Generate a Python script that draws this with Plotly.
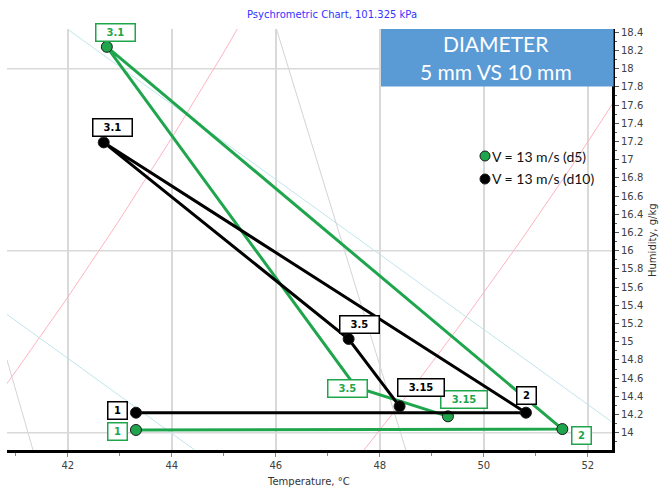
import numpy as np
import plotly.graph_objects as go

# ---- state points: dry-bulb temperature (°C) and humidity ratio (g/kg) ----
point_names = ["1", "2", "3.1", "3.5", "3.15"]
temp_d5 = [43.31, 51.51, 42.75, 47.54, 49.31]
hum_d5 = [14.03, 14.04, 18.24, 14.50, 14.18]
temp_d10 = [43.31, 50.81, 42.69, 47.40, 48.38]
hum_d10 = [14.22, 14.22, 17.19, 15.03, 14.29]
series_names = ["V = 13 m/s (d5)", "V = 13 m/s (d10)"]

# ---- psychrometric reference lines ----
rh_levels = [0.20, 0.30]                      # relative humidity curves
wetbulb_temp = [[41.98, 52.46], [40.83, 44.44]]  # cyan reference lines
wetbulb_hum = [[18.44, 14.12], [15.30, 13.81]]
volume_temp = [[46.01, 48.50], [40.83, 41.33]]   # grey specific-volume lines
volume_hum = [[18.44, 13.81], [14.80, 13.81]]
grid_hum = [14, 16, 18]

x_ticks = [42, 44, 46, 48, 50, 52]
x_range = [40.83, 52.465]
y_range = [13.81, 18.436]

P_ATM = 101325.0

# ---- layout geometry ----
W, H = 659, 488
ML, MR, MT, MB = 7, 47, 29, 38
GREEN = "#1fa64d"
BLACK = "#000000"


def px_x(p):
    return (p - ML) / (W - ML - MR)


def px_y(p):
    return (H - MB - p) / (H - MT - MB)


def p_ws(t):
    """Saturation vapour pressure over water (Pa), Hyland-Wexler."""
    T = np.asarray(t) + 273.15
    return np.exp(-5.8002206e3 / T + 1.3914993 - 4.8640239e-2 * T
                  + 4.1764768e-5 * T ** 2 - 1.4452093e-8 * T ** 3
                  + 6.5459673 * np.log(T))


fig = go.Figure()

# relative humidity curves
t_grid = np.linspace(40.0, 53.5, 80)
for rh in rh_levels:
    pv = rh * p_ws(t_grid)
    w = 621.945 * pv / (P_ATM - pv)
    fig.add_trace(go.Scatter(x=t_grid, y=w, mode="lines",
                             line=dict(color="#ffb3c1", width=1),
                             hoverinfo="skip", showlegend=False))

for tx, hy in zip(wetbulb_temp, wetbulb_hum):
    fig.add_trace(go.Scatter(x=tx, y=hy, mode="lines",
                             line=dict(color="#bfe6ea", width=1),
                             hoverinfo="skip", showlegend=False))

for tx, hy in zip(volume_temp, volume_hum):
    fig.add_trace(go.Scatter(x=tx, y=hy, mode="lines",
                             line=dict(color="#d4d4d4", width=1),
                             hoverinfo="skip", showlegend=False))

# process paths
for name, tx, hy, col in [(series_names[0], temp_d5, hum_d5, GREEN),
                          (series_names[1], temp_d10, hum_d10, BLACK)]:
    fig.add_trace(go.Scatter(
        x=tx, y=hy, mode="lines+markers", name=name,
        line=dict(color=col, width=3),
        marker=dict(size=11, color=col, line=dict(color="#1a1a1a", width=1)),
        showlegend=False))

# point labels (offsets in pixels: dx, dy with dy upward)
offsets_d5 = [(-18, -2), (19, -6), (9, 14), (-8, -1), (16, 17)]
offsets_d10 = [(-18, 2), (1, 17), (9, 15), (11, 14), (21, 19)]
label_font = dict(family="DejaVu Sans", size=10, weight="bold")


def label_width(txt):
    return {1: 16, 3: 36}.get(len(txt), 43)


for tx, hy, offs, col in [(temp_d5, hum_d5, offsets_d5, GREEN),
                          (temp_d10, hum_d10, offsets_d10, BLACK)]:
    for name, x, y, (dx, dy) in zip(point_names, tx, hy, offs):
        fig.add_annotation(
            x=x, y=y, text=name, showarrow=False,
            xshift=dx, yshift=dy, xanchor="center", yanchor="middle",
            width=label_width(name), height=14,
            bgcolor="white", bordercolor=col, borderwidth=1.5, borderpad=1,
            font=dict(color=col, **label_font))

# horizontal grid lines
shapes = []
for g in grid_hum:
    shapes.append(dict(type="line", xref="paper", yref="y", x0=0, x1=1,
                       y0=g, y1=g, layer="below",
                       line=dict(color="#d9d9d9", width=1.5)))

# title panel
shapes.append(dict(type="rect", xref="paper", yref="paper",
                   x0=px_x(381), x1=px_x(613.6), y0=px_y(86.5), y1=px_y(29),
                   fillcolor="#5b9bd5", line=dict(width=0), layer="above"))

# legend panel
shapes.append(dict(type="rect", xref="paper", yref="paper",
                   x0=px_x(477), x1=px_x(603), y0=px_y(191), y1=px_y(145),
                   fillcolor="white", line=dict(width=0), layer="between"))
legend_rows = [(156, GREEN), (179, BLACK)]
for (yy, col), name in zip(legend_rows, series_names):
    shapes.append(dict(type="circle", xref="paper", yref="paper",
                       xsizemode="pixel", ysizemode="pixel",
                       xanchor=px_x(485), yanchor=px_y(yy),
                       x0=-5, x1=5, y0=-5, y1=5,
                       fillcolor=col, line=dict(color="#1a1a1a", width=1),
                       layer="above"))
    fig.add_annotation(xref="paper", yref="paper", x=px_x(490), y=px_y(yy),
                       text=name, showarrow=False, xanchor="left",
                       yanchor="middle",
                       font=dict(family="Lato", size=14, color="#111111"))

fig.add_annotation(xref="paper", yref="paper", x=px_x(496), y=px_y(43),
                   text="DIAMETER", showarrow=False, xanchor="center",
                   yanchor="middle",
                   font=dict(family="Lato", size=21, color="white"))
fig.add_annotation(xref="paper", yref="paper", x=px_x(496), y=px_y(71),
                   text="5 mm VS 10 mm", showarrow=False, xanchor="center",
                   yanchor="middle",
                   font=dict(family="Lato", size=21, color="white"))

# axis titles
fig.add_annotation(xref="paper", yref="paper", x=px_x(308), y=px_y(481),
                   text="Temperature, °C", showarrow=False,
                   xanchor="center", yanchor="middle",
                   font=dict(family="DejaVu Sans", size=10, color="#333333"))
fig.add_annotation(xref="paper", yref="paper", x=px_x(652), y=px_y(240),
                   text="Humidity, g/kg", showarrow=False, textangle=-90,
                   xanchor="center", yanchor="middle",
                   font=dict(family="DejaVu Sans", size=10, color="#333333"))

fig.update_layout(
    width=W, height=H,
    margin=dict(l=ML, r=MR, t=MT, b=MB),
    paper_bgcolor="white", plot_bgcolor="white",
    showlegend=False,
    shapes=shapes,
    title=dict(text="Psychrometric Chart, 101.325 kPa",
               x=332 / W, y=1 - 14 / H, xanchor="center", yanchor="middle",
               font=dict(family="DejaVu Sans", size=10, color="#3333ff")),
    xaxis=dict(range=x_range, tickvals=x_ticks, showgrid=True,
               gridcolor="#d9d9d9", gridwidth=1.5, zeroline=False,
               showline=True, linecolor="black", linewidth=2.5,
               ticks="outside", ticklen=4, tickcolor="#888888",
               minor=dict(dtick=1, ticks="outside", ticklen=3,
                          tickcolor="#888888", showgrid=False),
               tickfont=dict(family="DejaVu Sans", size=10, color="#404040")),
    yaxis=dict(range=y_range, side="right", dtick=0.2, tick0=14,
               showgrid=False, zeroline=False,
               showline=True, linecolor="black", linewidth=3,
               ticks="outside", ticklen=4, tickcolor="#555555",
               minor=dict(dtick=0.1, ticks="outside", ticklen=2,
                          tickcolor="#555555", showgrid=False),
               tickfont=dict(family="DejaVu Sans", size=10, color="#404040")),
)

fig.write_html("out.html")
